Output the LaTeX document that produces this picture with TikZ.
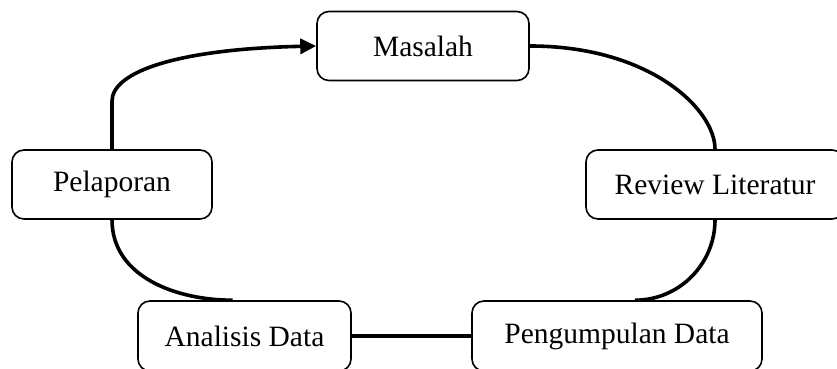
\documentclass[tikz,border=0pt]{standalone}
\usepackage{fontspec}
\setmainfont{Liberation Serif}
\usetikzlibrary{arrows.meta}

\begin{document}
\begin{tikzpicture}[x=1pt,y=1pt,
	stage/.style={draw,rounded corners=12pt,line width=1.6pt,minimum height=69pt,inner sep=0pt,font=\fontsize{29.5}{34}\selectfont},
	link/.style={line width=3.6pt}]
	\clip (0,0) rectangle (837,369);
	\node[stage,minimum width=212pt] (masalah) at (423,323) {Masalah};
	\node[stage,minimum width=200pt] (pelaporan) at (112,184.5) {Pelaporan};
	\node[stage,minimum width=258pt] (review) at (715,184.5) {Review Literatur};
	\node[stage,minimum width=213pt,minimum height=70pt] (analisis) at (244.5,33) {Analisis Data};
	\node[stage,minimum width=290pt,minimum height=70pt] (pengumpulan) at (617,33) {Pengumpulan Data};
	\draw[link,-{Triangle[length=16pt,width=15pt]}] (pelaporan.north) -- ++(0,48) .. controls +(0,30) and +(-137,-3) .. (masalah.west);
	\draw[link] (masalah.east) .. controls +(120,0) and +(0,40) .. (review.north);
	\draw[link] (review.south) to[out=-90,in=0] ([xshift=18pt]pengumpulan.north);
	\draw[link] (analisis.east) -- (pengumpulan.west);
	\draw[link] (pelaporan.south) to[out=-90,in=180] ([xshift=-12pt]analisis.north);
\end{tikzpicture}
\end{document}
